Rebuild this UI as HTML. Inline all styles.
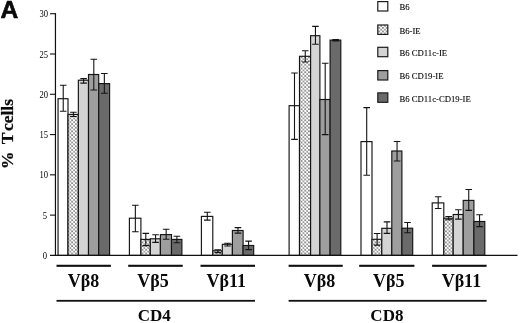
<!DOCTYPE html><html><head><meta charset="utf-8"><style>

html,body{margin:0;padding:0;background:#fff;}
#c{will-change:transform;position:relative;width:520px;height:323px;overflow:hidden;background:#fff;font-family:"Liberation Serif",serif;color:#0a0a0a;}
.t{position:absolute;white-space:nowrap;line-height:1;}
.tick{font-size:9.9px;text-align:right;width:20px;color:#000;transform:scaleX(0.87);transform-origin:right center;}
.leg{font-size:8.7px;-webkit-text-stroke:0.1px #000;color:#000;}
.vb{font-size:18px;font-weight:bold;}
.cd{font-size:17px;font-weight:bold;}

</style></head><body><div id="c">
<svg width="520" height="323" viewBox="0 0 520 323" style="position:absolute;left:0;top:0">
<defs><pattern id="dots" width="3.7" height="3.7" patternUnits="userSpaceOnUse"><rect width="3.7" height="3.7" fill="#fff"/><g fill="#222"><circle cx="0" cy="0" r="0.78"/><circle cx="3.7" cy="0" r="0.64"/><circle cx="0" cy="3.7" r="0.64"/><circle cx="3.7" cy="3.7" r="0.64"/><circle cx="1.85" cy="1.85" r="0.78"/></g></pattern></defs>
<rect x="58.05" y="98.70" width="9.95" height="156.70" fill="#ffffff" stroke="#141414" stroke-width="1.15"/>
<rect x="68.00" y="114.40" width="10.35" height="141.00" fill="url(#dots)" stroke="#141414" stroke-width="1.15"/>
<rect x="78.35" y="80.20" width="10.15" height="175.20" fill="#d4d4d4" stroke="#141414" stroke-width="1.15"/>
<rect x="88.50" y="74.50" width="10.20" height="180.90" fill="#9e9e9e" stroke="#141414" stroke-width="1.15"/>
<rect x="98.70" y="83.60" width="10.90" height="171.80" fill="#6a6a6a" stroke="#141414" stroke-width="1.15"/>
<path d="M63.23 85.30V111.30M59.93 85.30H66.53M59.93 111.30H66.53" stroke="#141414" stroke-width="1.1" fill="none"/>
<path d="M73.38 112.30V116.50M70.08 112.30H76.67M70.08 116.50H76.67" stroke="#141414" stroke-width="1.1" fill="none"/>
<path d="M83.62 78.60V83.10M80.33 78.60H86.92M80.33 83.10H86.92" stroke="#141414" stroke-width="1.1" fill="none"/>
<path d="M93.80 59.20V90.00M90.50 59.20H97.10M90.50 90.00H97.10" stroke="#141414" stroke-width="1.1" fill="none"/>
<path d="M104.35 73.50V93.20M101.05 73.50H107.65M101.05 93.20H107.65" stroke="#141414" stroke-width="1.1" fill="none"/>
<rect x="129.40" y="218.20" width="11.50" height="37.20" fill="#ffffff" stroke="#141414" stroke-width="1.15"/>
<rect x="140.90" y="239.40" width="9.40" height="16.00" fill="url(#dots)" stroke="#141414" stroke-width="1.15"/>
<rect x="150.30" y="238.80" width="10.10" height="16.60" fill="#d4d4d4" stroke="#141414" stroke-width="1.15"/>
<rect x="160.40" y="234.60" width="11.10" height="20.80" fill="#9e9e9e" stroke="#141414" stroke-width="1.15"/>
<rect x="171.50" y="239.40" width="10.40" height="16.00" fill="#6a6a6a" stroke="#141414" stroke-width="1.15"/>
<path d="M135.35 205.30V231.70M132.05 205.30H138.65M132.05 231.70H138.65" stroke="#141414" stroke-width="1.1" fill="none"/>
<path d="M145.80 233.40V245.60M142.50 233.40H149.10M142.50 245.60H149.10" stroke="#141414" stroke-width="1.1" fill="none"/>
<path d="M155.55 234.70V242.40M152.25 234.70H158.85M152.25 242.40H158.85" stroke="#141414" stroke-width="1.1" fill="none"/>
<path d="M166.15 229.30V239.30M162.85 229.30H169.45M162.85 239.30H169.45" stroke="#141414" stroke-width="1.1" fill="none"/>
<path d="M176.90 236.20V242.70M173.60 236.20H180.20M173.60 242.70H180.20" stroke="#141414" stroke-width="1.1" fill="none"/>
<rect x="201.40" y="216.40" width="11.40" height="39.00" fill="#ffffff" stroke="#141414" stroke-width="1.15"/>
<rect x="212.80" y="250.80" width="9.50" height="4.60" fill="url(#dots)" stroke="#141414" stroke-width="1.15"/>
<rect x="222.30" y="244.30" width="10.10" height="11.10" fill="#d4d4d4" stroke="#141414" stroke-width="1.15"/>
<rect x="232.40" y="230.50" width="10.70" height="24.90" fill="#9e9e9e" stroke="#141414" stroke-width="1.15"/>
<rect x="243.10" y="245.50" width="10.60" height="9.90" fill="#6a6a6a" stroke="#141414" stroke-width="1.15"/>
<path d="M207.30 212.20V220.10M204.00 212.20H210.60M204.00 220.10H210.60" stroke="#141414" stroke-width="1.1" fill="none"/>
<path d="M217.75 249.70V252.60M214.45 249.70H221.05M214.45 252.60H221.05" stroke="#141414" stroke-width="1.1" fill="none"/>
<path d="M227.55 243.20V246.00M224.25 243.20H230.85M224.25 246.00H230.85" stroke="#141414" stroke-width="1.1" fill="none"/>
<path d="M237.95 227.60V233.10M234.65 227.60H241.25M234.65 233.10H241.25" stroke="#141414" stroke-width="1.1" fill="none"/>
<path d="M248.60 241.10V249.60M245.30 241.10H251.90M245.30 249.60H251.90" stroke="#141414" stroke-width="1.1" fill="none"/>
<rect x="289.10" y="105.70" width="10.40" height="149.70" fill="#ffffff" stroke="#141414" stroke-width="1.15"/>
<rect x="299.50" y="56.30" width="11.10" height="199.10" fill="url(#dots)" stroke="#141414" stroke-width="1.15"/>
<rect x="310.60" y="35.70" width="9.30" height="219.70" fill="#d4d4d4" stroke="#141414" stroke-width="1.15"/>
<rect x="319.90" y="99.50" width="10.20" height="155.90" fill="#9e9e9e" stroke="#141414" stroke-width="1.15"/>
<rect x="330.10" y="40.10" width="10.70" height="215.30" fill="#6a6a6a" stroke="#141414" stroke-width="1.15"/>
<path d="M294.50 73.00V139.40M291.20 73.00H297.80M291.20 139.40H297.80" stroke="#141414" stroke-width="1.1" fill="none"/>
<path d="M305.25 50.70V62.00M301.95 50.70H308.55M301.95 62.00H308.55" stroke="#141414" stroke-width="1.1" fill="none"/>
<path d="M315.45 26.40V44.30M312.15 26.40H318.75M312.15 44.30H318.75" stroke="#141414" stroke-width="1.1" fill="none"/>
<path d="M325.20 63.30V134.60M321.90 63.30H328.50M321.90 134.60H328.50" stroke="#141414" stroke-width="1.1" fill="none"/>
<path d="M335.65 39.60V40.90M332.35 39.60H338.95M332.35 40.90H338.95" stroke="#141414" stroke-width="1.1" fill="none"/>
<rect x="361.00" y="141.60" width="11.00" height="113.80" fill="#ffffff" stroke="#141414" stroke-width="1.15"/>
<rect x="372.00" y="239.30" width="9.80" height="16.10" fill="url(#dots)" stroke="#141414" stroke-width="1.15"/>
<rect x="381.80" y="228.30" width="10.00" height="27.10" fill="#d4d4d4" stroke="#141414" stroke-width="1.15"/>
<rect x="391.80" y="151.00" width="10.10" height="104.40" fill="#9e9e9e" stroke="#141414" stroke-width="1.15"/>
<rect x="401.90" y="228.20" width="10.80" height="27.20" fill="#6a6a6a" stroke="#141414" stroke-width="1.15"/>
<path d="M366.70 107.60V175.20M363.40 107.60H370.00M363.40 175.20H370.00" stroke="#141414" stroke-width="1.1" fill="none"/>
<path d="M377.10 233.50V245.10M373.80 233.50H380.40M373.80 245.10H380.40" stroke="#141414" stroke-width="1.1" fill="none"/>
<path d="M387.00 221.90V233.40M383.70 221.90H390.30M383.70 233.40H390.30" stroke="#141414" stroke-width="1.1" fill="none"/>
<path d="M397.05 141.50V161.00M393.75 141.50H400.35M393.75 161.00H400.35" stroke="#141414" stroke-width="1.1" fill="none"/>
<path d="M407.50 222.50V232.70M404.20 222.50H410.80M404.20 232.70H410.80" stroke="#141414" stroke-width="1.1" fill="none"/>
<rect x="432.20" y="202.90" width="11.60" height="52.50" fill="#ffffff" stroke="#141414" stroke-width="1.15"/>
<rect x="443.80" y="218.20" width="9.40" height="37.20" fill="url(#dots)" stroke="#141414" stroke-width="1.15"/>
<rect x="453.20" y="214.50" width="10.00" height="40.90" fill="#d4d4d4" stroke="#141414" stroke-width="1.15"/>
<rect x="463.20" y="200.40" width="10.70" height="55.00" fill="#9e9e9e" stroke="#141414" stroke-width="1.15"/>
<rect x="473.90" y="221.50" width="10.90" height="33.90" fill="#6a6a6a" stroke="#141414" stroke-width="1.15"/>
<path d="M438.20 196.70V208.50M434.90 196.70H441.50M434.90 208.50H441.50" stroke="#141414" stroke-width="1.1" fill="none"/>
<path d="M448.70 216.50V219.80M445.40 216.50H452.00M445.40 219.80H452.00" stroke="#141414" stroke-width="1.1" fill="none"/>
<path d="M458.40 209.80V219.10M455.10 209.80H461.70M455.10 219.10H461.70" stroke="#141414" stroke-width="1.1" fill="none"/>
<path d="M468.75 189.50V210.40M465.45 189.50H472.05M465.45 210.40H472.05" stroke="#141414" stroke-width="1.1" fill="none"/>
<path d="M479.55 214.70V226.60M476.25 214.70H482.85M476.25 226.60H482.85" stroke="#141414" stroke-width="1.1" fill="none"/>
<path d="M55.45 13.1V255.4" stroke="#111" stroke-width="1.2" fill="none"/>
<path d="M50 255.4H517.5" stroke="#111" stroke-width="1.2" fill="none"/>
<path d="M50 215.12H55.45" stroke="#111" stroke-width="1.1" fill="none"/>
<path d="M50 174.84H55.45" stroke="#111" stroke-width="1.1" fill="none"/>
<path d="M50 134.56H55.45" stroke="#111" stroke-width="1.1" fill="none"/>
<path d="M50 94.28H55.45" stroke="#111" stroke-width="1.1" fill="none"/>
<path d="M50 54.00H55.45" stroke="#111" stroke-width="1.1" fill="none"/>
<path d="M50 13.72H55.45" stroke="#111" stroke-width="1.1" fill="none"/>
<rect x="56.5" y="264.75" width="54.40" height="2.1" fill="#111"/>
<rect x="128.2" y="264.75" width="54.50" height="2.1" fill="#111"/>
<rect x="200.5" y="264.75" width="54.50" height="2.1" fill="#111"/>
<rect x="288.6" y="264.75" width="54.10" height="2.1" fill="#111"/>
<rect x="359.2" y="264.75" width="55.20" height="2.1" fill="#111"/>
<rect x="432.1" y="264.75" width="54.50" height="2.1" fill="#111"/>
<rect x="56.5" y="299.9" width="198.50" height="1.8" fill="#111"/>
<rect x="288.6" y="299.9" width="198.00" height="1.8" fill="#111"/>
<rect x="377.8" y="1.60" width="10.0" height="9.4" fill="#ffffff" stroke="#1c1c1c" stroke-width="1.2"/>
<rect x="377.8" y="25.00" width="10.0" height="9.4" fill="url(#dots)" stroke="#1c1c1c" stroke-width="1.2"/>
<rect x="377.8" y="47.30" width="10.0" height="9.4" fill="#d4d4d4" stroke="#1c1c1c" stroke-width="1.2"/>
<rect x="377.8" y="70.60" width="10.0" height="9.4" fill="#9e9e9e" stroke="#1c1c1c" stroke-width="1.2"/>
<rect x="377.8" y="92.90" width="10.0" height="9.4" fill="#6a6a6a" stroke="#1c1c1c" stroke-width="1.2"/>
</svg>
<div class="t" id="A" style="left:0.4px;top:-1.6px;font-family:'Liberation Sans',sans-serif;font-weight:bold;font-size:24.6px;-webkit-text-stroke:0.6px #0a0a0a;">A</div>
<div class="t tick" style="left:26.7px;top:251.0px;">0</div>
<div class="t tick" style="left:26.7px;top:210.7px;">5</div>
<div class="t tick" style="left:27.6px;top:170.4px;">10</div>
<div class="t tick" style="left:27.6px;top:130.1px;">15</div>
<div class="t tick" style="left:27.6px;top:89.8px;">20</div>
<div class="t tick" style="left:27.6px;top:49.5px;">25</div>
<div class="t tick" style="left:27.6px;top:9.3px;">30</div>
<div class="t" id="yl" style="left:8px;top:133.6px;width:0;height:0;"><div class="t" style="transform:translate(-50%,-50%) rotate(-90deg) scaleX(1.06);font-weight:bold;font-size:16.5px;-webkit-text-stroke:0.25px #0a0a0a;">%<span style="letter-spacing:2.8px"> </span>T<span style="letter-spacing:-2.8px"> </span>cells</div></div>
<div class="t leg" style="left:399.4px;top:3.1px;">B6</div>
<div class="t leg" style="left:399.4px;top:26.6px;">B6-IE</div>
<div class="t leg" style="left:399.4px;top:49.1px;">B6 CD11c-IE</div>
<div class="t leg" style="left:399.4px;top:72.2px;">B6 CD19-IE</div>
<div class="t leg" style="left:399.4px;top:94.6px;">B6 CD11c-CD19-IE</div>
<div class="t vb" style="left:83.5px;top:271.8px;transform:translateX(-50%);">Vβ8</div>
<div class="t vb" style="left:153.0px;top:271.8px;transform:translateX(-50%);">Vβ5</div>
<div class="t vb" style="left:226.3px;top:271.8px;transform:translateX(-50%);">Vβ11</div>
<div class="t vb" style="left:319.5px;top:271.8px;transform:translateX(-50%);">Vβ8</div>
<div class="t vb" style="left:388.7px;top:271.8px;transform:translateX(-50%);">Vβ5</div>
<div class="t vb" style="left:461.4px;top:271.8px;transform:translateX(-50%);">Vβ11</div>
<div class="t cd" style="left:154.2px;top:307.4px;transform:translateX(-50%);">CD4</div>
<div class="t cd" style="left:386.9px;top:307.4px;transform:translateX(-50%);">CD8</div>
</div></body></html>
